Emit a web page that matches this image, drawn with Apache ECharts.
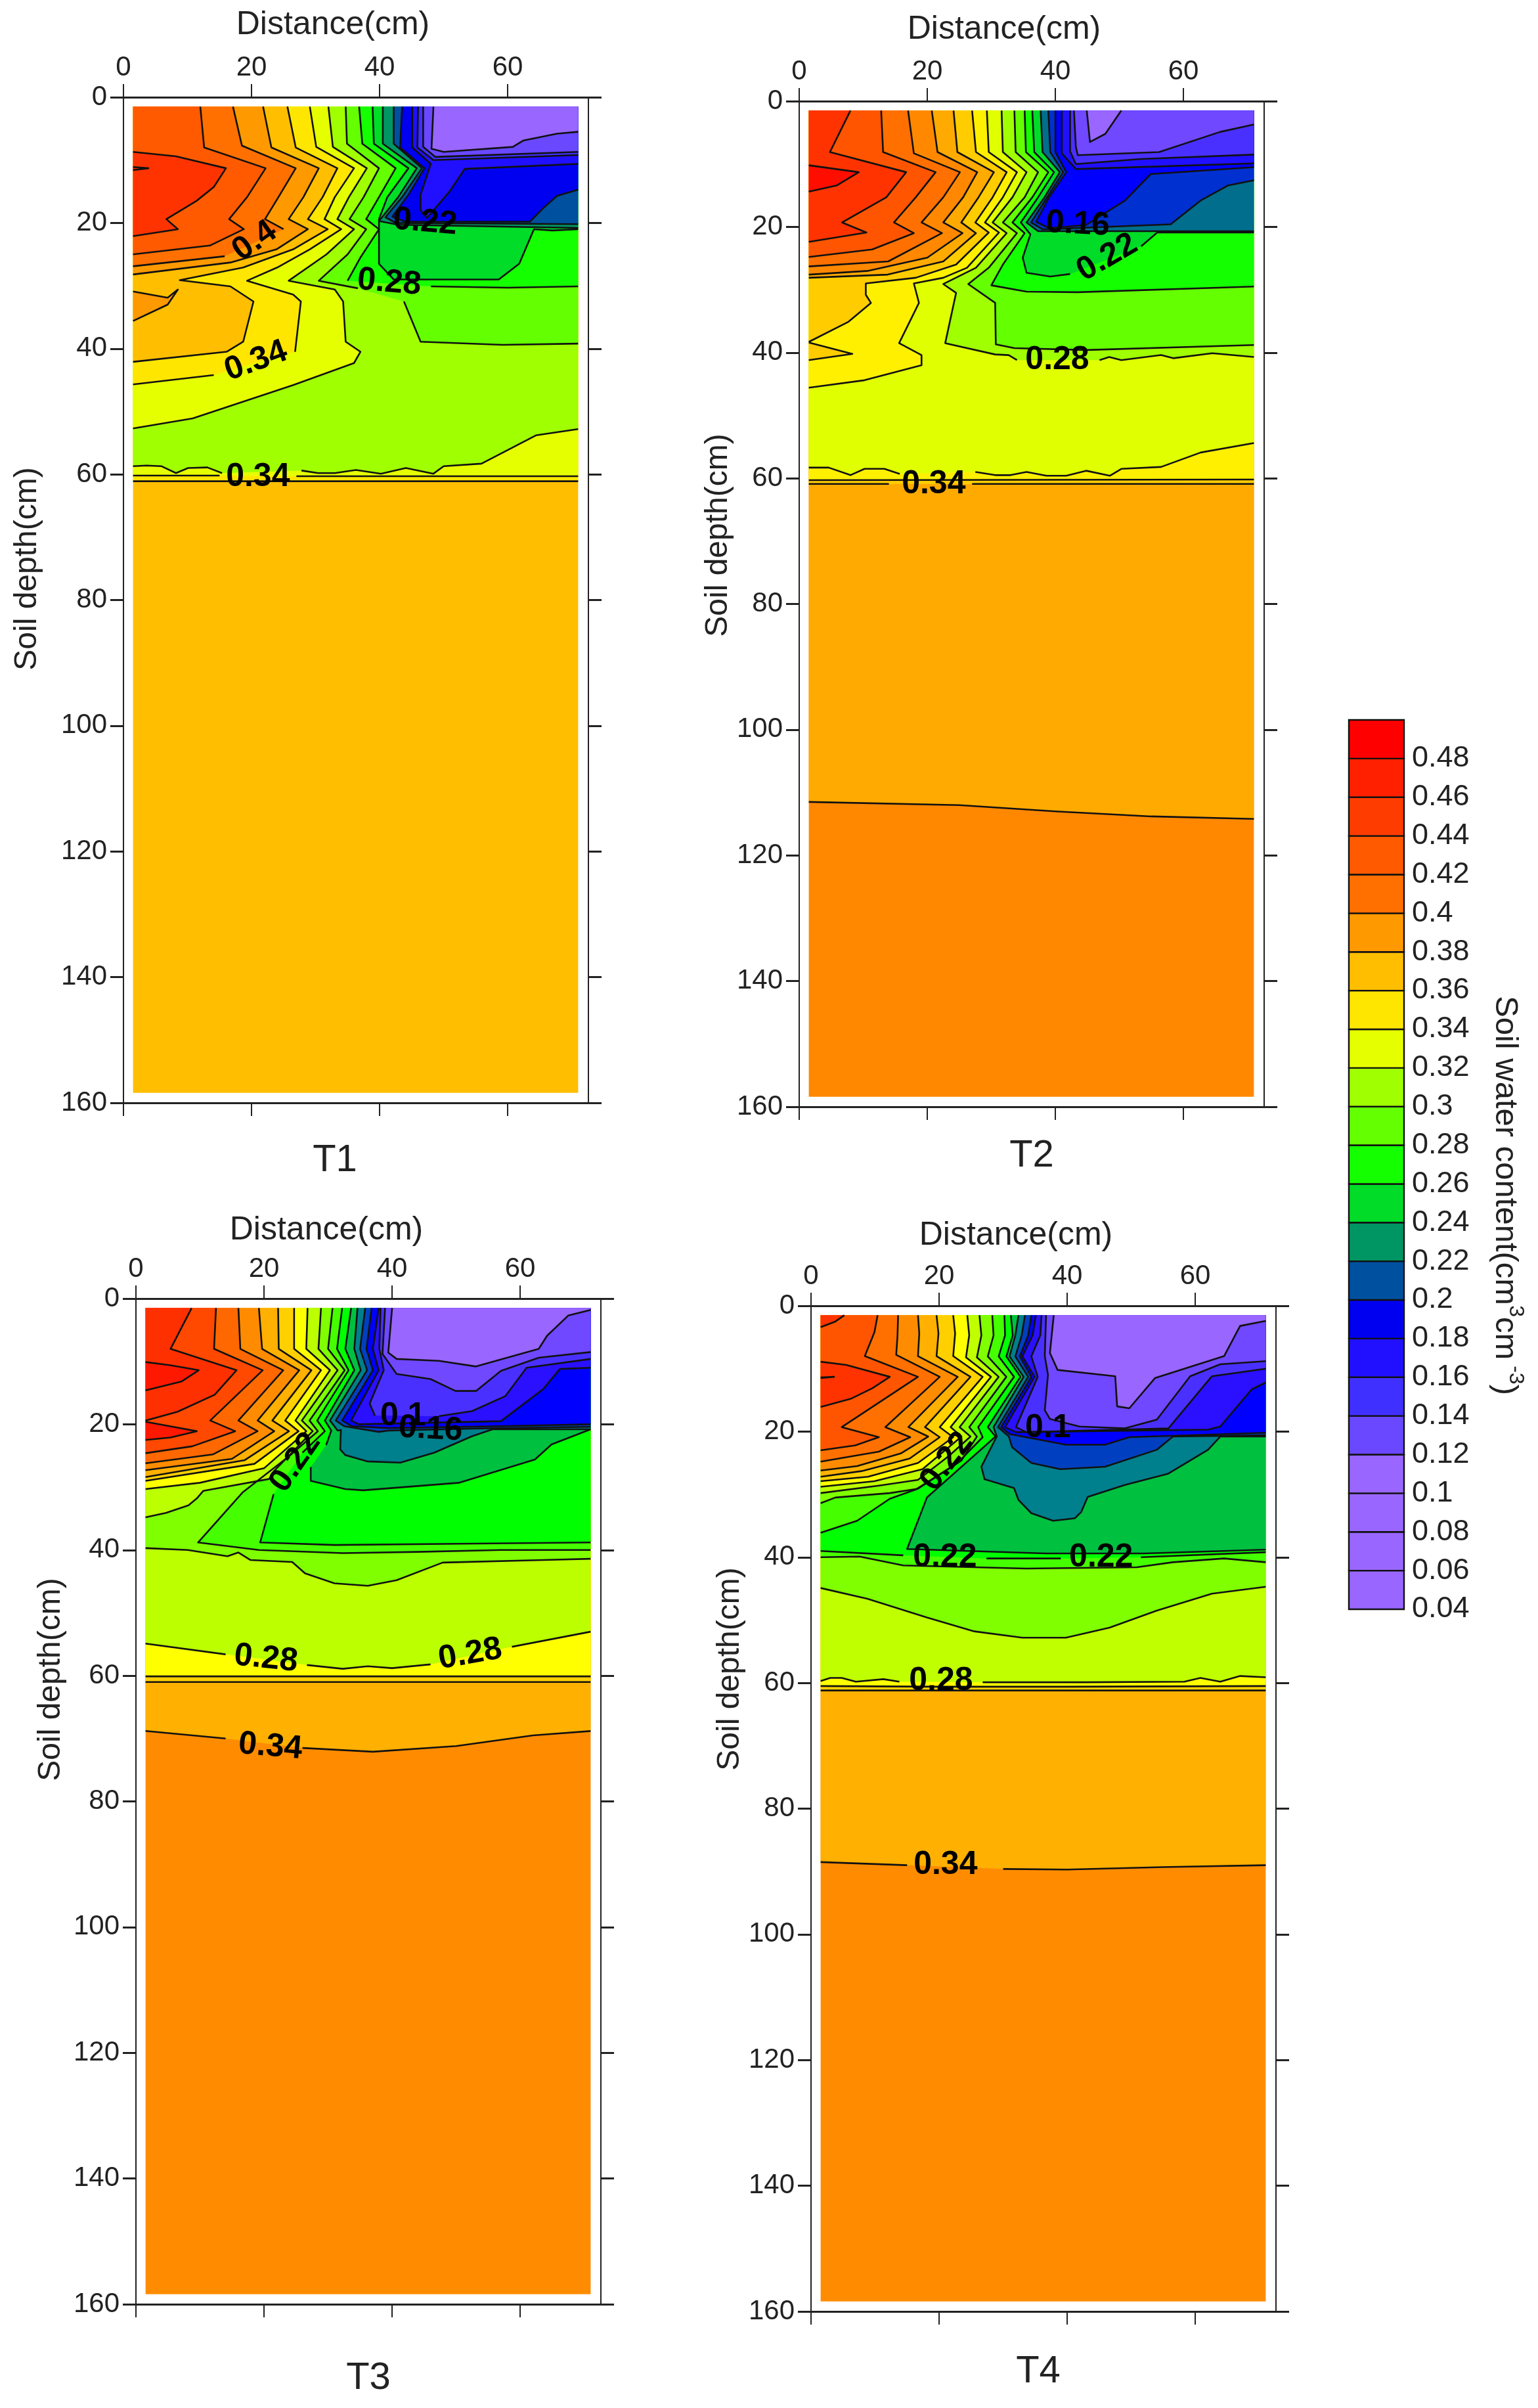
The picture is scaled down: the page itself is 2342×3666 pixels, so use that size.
<!DOCTYPE html>
<html>
<head>
<meta charset="utf-8">
<title>Soil water content</title>
<script src="https://cdn.jsdelivr.net/npm/echarts@6/dist/echarts.min.js"></script>
<style>
html, body { margin: 0; padding: 0; background: #fff; }
#main { width: 2342px; height: 3666px; }
</style>
</head>
<body>
<div id="main"></div>
<script>
// contour = [band value, line points (x cm, depth cm), closing corners of the filled area]
// null in a line = gap for a label
var L = 1.5, R = 71, T = 1.5, B = 158.4;
var hot = [[L, T]];
var cold = [[R, T]];
var above = [[R, T], [L, T]];
var whole = [[L, T], [R, T], [R, B], [L, B]];

var xTicks = [0, 20, 40, 60];
var depthTicks = [0, 20, 40, 60, 80, 100, 120, 140, 160];
var legendValues = [0.04, 0.06, 0.08, 0.1, 0.12, 0.14, 0.16, 0.18, 0.2, 0.22, 0.24, 0.26, 0.28, 0.3, 0.32, 0.34, 0.36, 0.38, 0.4, 0.42, 0.44, 0.46, 0.48];

var t1Contours = [
  [0.36, [], whole],
  [0.34, [[1.5,61.1],[71,61.1]], above],
  [0.32, [[1.5,60.2],[15,60.2],null,[27,60.3],[71,60.3]], above],
  [0.3, [[1.5,58.7],[3.6,58.6],[5.9,58.7],[8.2,59.8],[10.1,59],[13.1,58.9],[15.4,59.8],null,[27.8,59.4],[30.4,59.8],[33,59.8],[36.3,59.3],[40.2,59.9],[44.1,59],[48.4,59.9],[50,58.7],[55.9,58.3],[64.4,53.8],[71,52.8]], above],
  [0.28, [[34.7,1.5],[34.9,7.4],[39.9,11.3],[37.5,15.9],[35.3,19.4],[37.9,21],[35,25],[30.5,29.2],[36.6,30.4],null,[43.8,32.5],[46.4,38.9],[59.2,39.4],[71,39.2]], cold],
  [0.26, [[36.8,1.5],[37.3,7.4],[42.5,11.3],[39.9,15.9],[37.9,19.4],[39.9,21],[37,25.5],[35,29.2],null,[48,30.1],[60,30.3],[71,30.1]], cold],
  [0.24, [[38.9,1.5],[39.1,7.4],[44.5,11.3],[41.2,15.9],[39.9,19.4],[39.9,21.3],[39.9,26.5],[42.2,29],[58.6,29],[61.8,26.5],[64.1,21],[67,21.2],[71,21]], cold],
  [0.22, [[40.5,1.5],[40.5,7.4],[45.8,11.3],[42.9,15.9],[39.9,19.7],[42.9,20.3],[71,20.8]], cold],
  [0.2, [[42.2,1.5],[42.2,7.4],[46.6,11.3],[43.5,15.9],[40.9,19.1],[42.5,20],[71,20.2]], cold],
  [0.18, [[43.5,1.5],[43.2,8],[47,11.3],[44.5,15.5],[42,19],[44,19.8],[63.5,19.8],[65.5,17.7],[67.7,15.7],[71,14.7]], cold],
  [0.16, [[45.1,1.5],[45.1,8],[48,10.6],[46.4,15.5],[46.4,18],[47.4,19.2],[51,14.9],[53.3,11.4],[71,10.6]], cold],
  [0.14, [[46,1.5],[45.9,8],[48.4,10],[71,9.2]], cold],
  [0.12, [[46.8,1.5],[46.8,7.9],[48.7,9.5],[71,8.7]], cold],
  [0.1, [[48.4,1.5],[48.1,8.2],[50,8.7],[60.8,7.9],[62.4,6.9],[67.7,5.8],[71,5.5]], cold],
  [0.32, [[32,1.5],[32.7,7.9],[38,11.3],[35.2,15.9],[33.4,19.4],[36,21],[31.7,25],[25.8,29.2],[33,30.6],[34.3,32.5],[34.7,38.9],[37,40.5],[36,42.3],[26.5,45.8],[10.8,51.1],[1.5,52.7]], hot],
  [0.34, [[29.1,1.5],[30.1,7.9],[36,11.3],[33,15.9],[31.4,19.4],[34,21],[29.1,24.2],[24,27.1],[19.3,29.2],[26.5,31.4],[27.7,32.5],[26.8,40.5],null,[14.1,44.2],[1.5,45.7]], hot],
  [0.36, [[25.6,1.5],[26.9,8],[33.4,11.3],[31.1,15.9],[28.8,19.4],[31.9,21],[26.5,24.2],[18.7,27.1],[8.8,29.1],[16.7,30.1],[20.3,32.5],[18.7,38.9],[16.1,40.5],[1.5,42.1]], hot],
  [0.38, [[1.5,30.9],[6.9,31.9],[8.5,30.6],[6.9,33],[1.5,35.6]], []],
  [0.38, [[21.8,1.5],[23.1,8],[30.5,11.3],[28.1,15.9],[25.8,19.4],[28.8,21],[23.9,24.2],[16.7,26.3],[1.5,28.2]], hot],
  [0.4, [[17.1,1.5],[18.5,7.7],[26.9,11.3],[24.2,15.9],[22.1,19.4],[25,21],null,[15.8,25.3],[1.5,26.9]], hot],
  [0.42, [[12,1.5],[12.6,8],[22.2,11.3],[19.3,15.9],[16.5,19.4],[18.8,21],[13.5,23.6],[1.5,25]], hot],
  [0.44, [[1.5,8.7],[8.2,9.4],[16,11.3],[14.1,14.3],[11.4,16.5],[6.7,19.4],[8.5,21],[1.5,22.1]], []],
  [0.46, [[1.5,11.1],[3.9,11.3],[1.5,11.6]], []]
];
var t1Labels = [["0.4",20.5,22.9,35],["0.22",47.1,19.9,-5],["0.28",41.5,29.5,-5],["0.34",20.7,42,20],["0.34",21,60.4,0]];

var t2Contours = [
  [0.38, [], whole],
  [0.36, [[1.5,111.5],[25,112],[40,113],[55,113.8],[71,114.2]], above],
  [0.34, [[1.5,60.9],[14,60.9],null,[27,60.9],[71,60.9]], above],
  [0.32, [[1.5,60.3],[71,60.2]], above],
  [0.3, [[1.5,58.3],[4.6,58.3],[8,59.5],[10.2,58.5],[13.3,58.5],[15.7,59.3],null,[27.5,59],[30.6,59.5],[33,59.5],[35.5,59],[38.6,59.6],[41.7,59.6],[44.8,58.8],[48.5,59.6],[50.3,58.5],[56.5,58.2],[62.7,55.9],[71,54.4]], above],
  [0.28, [[31.6,1.5],[31.8,8.1],[35.5,11.3],[33.3,15.3],[30.2,19.3],[32.4,21],[27.6,26.5],[22.5,29.1],[24.5,30.5],[22.8,38.5],[30.6,40.3],[32.7,40.4],[34,41.2],null,[46.9,41.2],[48.4,40.7],[50.3,41.2],[56.5,40.4],[58.4,40.9],[64.5,40.1],[71,40.7]], cold],
  [0.26, [[33.6,1.5],[33.8,8.1],[37.3,11.3],[35.2,15.3],[31.8,19.3],[34,21],[29.6,26.5],[26.4,29.1],[30.6,32.1],[30.7,38.7],[33.6,39.3],[44.8,39.6],[71,38.8]], cold],
  [0.24, [[35.2,1.5],[35.4,8.1],[38.9,11.3],[36.4,15.3],[33.3,19.3],[35.2,21],[31.8,26],[30,29.3],[35.5,30.3],[43.5,30.4],[71,29.5]], cold],
  [0.22, [[36.4,1.5],[36.7,8.1],[39.8,11.3],[37.3,15.3],[34.6,19.3],[36.1,21.2],[34.9,24.9],[35.5,27.3],[39.2,27.9],[42.3,27.5],null,[53.4,23.1],[55.9,20.9],[71,20.9]], cold],
  [0.2, [[37.7,1.5],[38,8.1],[40.7,11.3],[38.3,15.3],[35.5,19.3],[37.3,20.7],[71,20.7]], cold],
  [0.18, [[38.9,1.5],[39.2,8.1],[41.2,11.3],[38.7,15.3],[36.2,19.3],[38,20.4],[58,19.6],[62.7,15.8],[67,13.4],[71,12.6]], cold],
  [0.16, [[40,1.5],[40,8.1],[41.7,11.3],[39,15.3],[37,19.2],[39,20.2],[44.8,19.7],[50.9,15.8],[54.9,11.6],[71,10.5]], cold],
  [0.14, [[41,1.5],[41,8.3],[43.2,10.8],[71,9.9]], cold],
  [0.12, [[42.3,1.5],[42.3,8],[43.2,10],[53.4,9.2],[71,8.5]], cold],
  [0.1, [[42.9,1.5],[43.2,7.3],[43.5,8.6],[56.2,8.1],[65.7,4.9],[71,3.7]], cold],
  [0.08, [[44.9,1.5],[45.4,6.5],[47.8,5.2],[50.3,1.5]], []],
  [0.32, [[29.3,1.5],[29.6,8.1],[34,11.3],[31.8,15.3],[29,19.3],[31.2,20.9],[26.2,26.5],[22.5,28.1],[17.9,29],[18.7,32.1],[15.6,38.5],[19.1,40.4],[19.1,42],[10.2,44.4],[1.5,45.6]], hot],
  [0.34, [[27,1.5],[27.6,8.1],[32.4,11.3],[30.2,15.3],[27.5,19.3],[29.6,20.9],[24.5,26],[18.2,28.1],[10.4,29],[10.4,30.8],[11.2,32.1],[7.7,35.1],[1.5,38.3]], hot],
  [0.34, [[1.5,38.4],[8.3,40.2],[1.5,41.2]], []],
  [0.36, [[24.1,1.5],[24.7,8.1],[30.4,11.3],[28,15.3],[25.3,19.3],[27.6,21],[22.5,25.5],[13.8,27.6],[1.5,28.1]], hot],
  [0.38, [[20.7,1.5],[21.6,8.1],[27.8,11.3],[25.6,15.3],[22.5,19.3],[25.5,21],[20,24.9],[10.8,27],[1.5,27.6]], hot],
  [0.4, [[17,1.5],[17.9,8.3],[25.1,11.3],[22.5,15.3],[19.1,19.3],[22.3,21],[13.9,25.5],[1.5,26.3]], hot],
  [0.42, [[12.8,1.5],[13.1,8.1],[21.3,11.3],[18.2,15.3],[14.8,19.3],[17.9,21],[11.4,23.6],[1.5,24.8]], hot],
  [0.44, [[8,1.5],[4.8,8.1],[16.7,11.3],[13.6,15.3],[6.7,19.3],[10.5,20.9],[1.5,22.4]], hot],
  [0.46, [[1.5,10.2],[9.3,11.3],[5.9,13.4],[1.5,14.4]], []]
];
var t2Labels = [["0.16",43.5,19.6,-3],["0.22",48.1,24.9,30],["0.28",40.3,41.2,0],["0.34",21,61,0]];

var t3Contours = [
  [0.38, [], whole],
  [0.36, [[1.5,68.8],[14,70],null,[26,71.5],[37,72.1],[50,71.2],[62,69.5],[71,68.8]], above],
  [0.34, [[1.5,61],[71,61]], above],
  [0.32, [[1.5,60.1],[71,60.1]], above],
  [0.3, [[1.5,54.9],[14,56.6],null,[26.7,58.3],[32.3,58.9],[36.2,58.5],[40,58.8],[46,58.2],null,[58.7,55.4],[71,53]], above],
  [0.28, [[1.5,39.7],[8.1,40],[14.3,41],[16,40.4],[17.9,41.6],[24.4,41.9],[26.4,43.7],[31,45.3],[36.2,45.7],[40.7,44.8],[47.9,42],[63.6,41.6],[71,41.4]], above],
  [0.26, [[30.7,1.5],[30,8],[32.6,11.4],[27.1,19.4],[28.4,21.1],[24,25],[16.7,30.8],[9.7,38.8],[19.2,40],[32.3,40.5],[44,40.3],[57,40],[71,40]], cold],
  [0.24, [[32.2,1.5],[31.4,8],[33.2,11.4],[28.3,19.4],[29.5,21.1],[26,24.5],null,[21.5,31.1],[19.4,38.8],[31,39.2],[50.5,39],[71,38.8]], cold],
  [0.22, [[33.6,1.5],[32.7,8],[34.1,11.4],[29.5,19.4],[30.5,21],[29.7,23.3],null,[27.3,26.8],[27.3,29],[32.7,30.3],[35.5,30.5],[50.5,29.3],[62.3,25.6],[64.9,23.2],[71,20.8]], cold],
  [0.2, [[34.6,1.5],[34.1,8],[35.1,11.4],[30.3,19.4],[31.5,21],[32,20.9],[31.9,24],[32.7,24.9],[36.1,25.9],[41.3,26.1],[46.6,24.5],[52.5,21.9],[55.7,20.8],[71,20.8]], cold],
  [0.18, [[35.8,1.5],[35,8],[36.1,11.4],[31.2,19.4],[32.5,20.3],[37.9,21.2],[39.4,21],[52.5,20.7],[71,20.4]], cold],
  [0.16, [[36.8,1.5],[36,8],[37,11.4],[32.2,19.4],[33.7,20.3],[39.4,20.6],[57,20.3],[71,20]], cold],
  [0.14, [[37.9,1.5],[37,8],[37.9,11.4],[33.6,19.4],[34.8,20],[57,19.5],[63.6,14.4],[66.2,11.2],[71,11]], cold],
  [0.12, [[38.2,1.5],[38,8],[38.7,11.4],[36.5,16.7],[37.3,18.6],null,[47.3,18.7],[52.5,17.9],[57.7,15.5],[61,11],[71,9.6]], cold],
  [0.1, [[38.9,1.5],[38.5,8.8],[40.7,12],[46,12.8],[49.9,14.7],[53.1,14.7],[57,11.5],[62.9,9.4],[71,8.5]], cold],
  [0.08, [[40,1.5],[39.4,8.6],[40.7,9.6],[47.3,9.9],[53.1,10.8],[62.9,8],[64.2,5.9],[67.5,2.7],[71,1.8]], cold],
  [0.3, [[28.9,1.5],[28.5,8],[31.5,11.4],[25.9,19.4],[27.6,21.1],[21.5,27.5],[20.8,28.7],[10.5,30.6],[9.5,31.8],[8.2,32.9],[4.7,34.1],[1.5,34.8]], hot],
  [0.32, [[26.8,1.5],[26.6,8],[30.3,11.4],[24.9,19.4],[26.6,21.1],[20,27],[10,29.3],[1.5,30.3]], hot],
  [0.34, [[24.7,1.5],[24.7,8],[28.9,11.4],[23.3,19.4],[25.4,21.1],[18.5,26.3],[1.5,29]], hot],
  [0.36, [[22.2,1.5],[22.3,8],[27.4,11.4],[21.3,19.4],[23.9,21.1],[17,25.7],[1.5,28.4]], hot],
  [0.38, [[19.2,1.5],[19.7,8],[25.5,11.4],[19,19.4],[21.6,21.1],[15,25.5],[1.5,27.3]], hot],
  [0.42, [[16,1.5],[16.3,8],[23,11.4],[16,19.4],[19,21.1],[12,24.8],[1.5,26.2]], hot],
  [0.44, [[12.5,1.5],[12.2,8],[19.8,11.4],[11.6,19.4],[15.5,21.1],[8.8,23.5],[1.5,24.6]], hot],
  [0.46, [[8.7,1.5],[5.4,8],[15.7,11.4],[12.3,15.3],[6.5,18],[1.5,19.4]], hot],
  [0.48, [[1.5,10.1],[5.4,10.6],[9.8,11.4],[7.1,13.2],[1.5,14.6]], []],
  [0.48, [[1.5,19.6],[4.7,20.2],[9.5,21.1],[5.4,22.1],[1.5,22.5]], []]
];
var t3Labels = [["0.1",41.7,18.7,0],["0.16",46,20.8,-3],["0.22",24.9,26.1,55],["0.28",20.3,57.3,-6],["0.28",52.2,56.6,10],["0.34",21,71.3,-5]];

var t4Contours = [
  [0.38, [], whole],
  [0.36, [[1.5,88.5],[15,89],null,[30,89.6],[40,89.7],[55,89.3],[71,89]], above],
  [0.34, [[1.5,61.2],[71,61.2]], above],
  [0.32, [[1.5,60.5],[20,60.6],[40,60.6],[71,60.5]], above],
  [0.3, [[1.5,59.7],[3,59.2],[4.8,59.2],[7,59.8],[11.3,59.4],[13.8,59.8],null,[26.8,59.9],[42.9,59.9],[58.3,59.8],[60.8,59.2],[63.9,59.8],[67,58.9],[71,59.1]], above],
  [0.28, [[1.5,44.9],[8.8,46.6],[18.1,49.6],[25.5,51.8],[33,52.8],[39.8,52.8],[46.6,51.2],[54,48.5],[62.6,45.8],[71,44.7]], above],
  [0.26, [[1.5,40],[7.6,39.9],[14.4,41.3],[33.6,41.8],[50.9,41.6],[56.5,40.8],[64.5,40.2],[71,40.8]], above],
  [0.24, [[1.5,39],[14.4,39.7],null,[27.4,40.2],[39,40.2],null,[51.5,40],[71,39.2]], above],
  [0.22, [[31.2,1.5],[31.5,4.7],[30.5,8.05],[32.7,11.3],[27.6,19.3],[28.8,20.8],[26.4,23],[18.1,30.5],[15,38.7],[36.7,39.4],[52.1,39.4],[71,38.8]], cold],
  [0.2, [[32.4,1.5],[31.9,4.7],[31,8.05],[33.2,11.3],[28.5,19.3],[29,20.8],[26.6,25.6],[27.1,27.6],[31.7,29],[32.4,30.9],[34.4,33],[37.8,34.2],[41.2,33.8],[42.2,32.8],[43.2,30.4],[49,28.5],[55.8,26.7],[62,22.9],[63.9,20.8],[71,20.8]], cold],
  [0.18, [[33.4,1.5],[32.9,4.7],[31.9,8.05],[33.9,11.3],[29.2,19.3],[30.9,20.8],[31.4,22.5],[34.4,25],[38.9,26],[45.9,25.6],[54,22.9],[56.5,20.8],[71,20.6]], cold],
  [0.16, [[34.4,1.5],[33.9,4.7],[32.6,8.05],[34.4,11.3],[29.7,19.3],[31,20.4],[39.8,22.1],[45.9,22.1],[49.7,20.9],[71,20.2]], cold],
  [0.14, [[35.1,1.5],[34.6,4.7],[33,8.05],[34.9,11.3],[30.3,19.3],[32,20.1],[62,19.7],[63.9,19.2],[68.8,13.3],[71,12.2]], cold],
  [0.12, [[36,1.5],[35.8,4.7],[34.4,8.05],[35.4,11.3],[32,19.3],[33.6,20.1],[55.8,19.5],[62.6,11.2],[71,10]], cold],
  [0.1, [[36.7,1.5],[36.5,8],[37,11],[36.5,16.6],[37.3,18],[41.9,19.2],[49,19.5],[54,18.1],[59.2,11.2],[63.9,9.3],[71,8.8]], cold],
  [0.08, [[37.9,1.5],[37.3,7.5],[38.5,10.2],[47.5,11.2],[47.8,16],[49.7,16.3],[53.7,11.5],[64.5,8],[67,3.2],[71,2.4]], cold],
  [0.26, [[30.2,1.5],[30.3,4.7],[29.3,8.05],[31.7,11.3],[26.1,19.3],[26.8,20.9],[22.9,25],[16.4,29.2],[12.3,30.7],[7.2,34.2],[1.5,36.1]], hot],
  [0.28, [[28.3,1.5],[28.5,4.7],[27.6,8.05],[30.5,11.3],[24.7,19.3],[25.9,20.8],[23.5,24.6],[16.7,29.1],[12.3,29.8],[3.8,30.5],[1.5,31.4]], hot],
  [0.3, [[26.3,1.5],[26.6,4.7],[25.9,8.2],[29.3,11.3],[23.2,19.3],[24.9,20.8],[21.5,23.9],[16.7,27.7],[10.6,28.6],[1.5,29.8]], hot],
  [0.32, [[24.4,1.5],[24.7,4.7],[24.2,8.2],[28.1,11.3],[21.8,19.3],[23.5,20.8],[17.4,26],[9.9,27.9],[1.5,28.8]], hot],
  [0.34, [[22.2,1.5],[22.5,4.4],[22.2,8],[26.8,11.3],[20.1,19.3],[22.2,20.9],[16.7,25],[8.9,27.2],[1.5,27.9]], hot],
  [0.36, [[19.6,1.5],[19.9,4.4],[19.6,8],[24.9,11.3],[17.8,19.3],[20.1,20.9],[15.4,24.3],[7.9,26.3],[1.5,27.2]], hot],
  [0.38, [[16.7,1.5],[16.9,4.4],[16.7,8],[22.9,11.3],[15.2,19.3],[18.3,20.8],[14,23.5],[7.2,25.5],[1.5,26.2]], hot],
  [0.4, [[13.6,1.5],[13.5,4.8],[13.3,7.8],[20.1,11.3],[11.6,19.3],[15.5,20.9],[10.6,23.2],[1.5,24.8]], hot],
  [0.42, [[10.4,1.5],[9.9,4.2],[8.4,8],[16.7,11.3],[4.8,19.3],[10.6,20.9],[6.9,22.2],[1.5,23]], hot],
  [0.44, [[1.5,3.4],[3.8,2.5],[5.2,1.5]], hot],
  [0.44, [[1.5,8.9],[5.5,9.4],[12.3,11.3],[9.6,13.1],[6.2,14.8],[1.5,16.1]], []],
  [0.46, [[1.5,11.4],[3.6,11.3],[1.5,11.5]], []]
];
var t4Labels = [["0.1",37,19.5,0],["0.22",21.2,24.8,52],["0.22",20.9,40,0],["0.22",45.3,40,0],["0.28",20.3,59.7,0],["0.34",21,89,0]];

// colours
var legendColors = ['#9966ff','#9966ff','#9966ff','#9966ff','#6a48ff','#4030ff','#2010ff','#0000f0','#0050a0','#009664','#00dc28','#14ff00','#64ff00','#a0ff00','#e6ff00','#ffe600','#ffbe00','#ff9900','#ff7000','#ff5a00','#ff3c00','#ff2000','#ff0000'];
var t1Colors = {0.1:'#9966ff',0.12:'#6a48ff',0.14:'#4030ff',0.16:'#2010ff',0.18:'#0000f0',0.2:'#0050a0',0.22:'#009664',0.24:'#00dc28',0.26:'#14ff00',0.28:'#64ff00',0.3:'#a0ff00',0.32:'#e6ff00',0.34:'#ffe600',0.36:'#ffbe00',0.38:'#ff9900',0.4:'#ff7000',0.42:'#ff5a00',0.44:'#ff3300',0.46:'#ff2000'};
var t2Colors = {0.08:'#9966ff',0.1:'#7048ff',0.12:'#4a30ff',0.14:'#2010ff',0.16:'#0000ff',0.18:'#0030d0',0.2:'#006e8c',0.22:'#00dc28',0.24:'#14ff00',0.26:'#64ff00',0.28:'#a0ff00',0.3:'#e0ff00',0.32:'#fff000',0.34:'#ffcc00',0.36:'#ffaa00',0.38:'#ff8800',0.4:'#ff7000',0.42:'#ff5500',0.44:'#ff3300',0.46:'#ff0e00'};
var t3Colors = {0.08:'#9966ff',0.1:'#7048ff',0.12:'#4a30ff',0.14:'#2a10ff',0.16:'#0000ff',0.18:'#0040c0',0.2:'#007f8c',0.22:'#00c040',0.24:'#00ff00',0.26:'#45ff00',0.28:'#7fff00',0.3:'#bbff00',0.32:'#ffff00',0.34:'#ffd000',0.36:'#ffb000',0.38:'#ff8c00',0.42:'#ff6800',0.44:'#ff4800',0.46:'#ff3000',0.48:'#ff1800'};
var t4Colors = {0.08:'#9966ff',0.1:'#7048ff',0.12:'#4a30ff',0.14:'#2a10ff',0.16:'#0000ff',0.18:'#0040c0',0.2:'#007f8c',0.22:'#00c040',0.24:'#00ff00',0.26:'#45ff00',0.28:'#80ff00',0.3:'#c0ff00',0.32:'#ffff00',0.34:'#ffd000',0.36:'#ffb000',0.38:'#ff8c00',0.4:'#ff7000',0.42:'#ff5500',0.44:'#ff3300',0.46:'#ff1800'};

var font = 'Liberation Sans';
var axisColor = '#222';

var panels = [
  {name: 'T1', left: 188, top: 148, contours: t1Contours, labels: t1Labels, colors: t1Colors, title: [510, 1767], xName: [507, 38], yName: [42, 866]},
  {name: 'T2', left: 1217, top: 154, contours: t2Contours, labels: t2Labels, colors: t2Colors, title: [1571, 1760], xName: [1529, 45], yName: [1094, 815]},
  {name: 'T3', left: 207, top: 1977, contours: t3Contours, labels: t3Labels, colors: t3Colors, title: [561, 3621], xName: [497, 1873], yName: [78, 2557]},
  {name: 'T4', left: 1235, top: 1988, contours: t4Contours, labels: t4Labels, colors: t4Colors, title: [1581, 3611], xName: [1547, 1881], yName: [1112, 2541]}
];

function fillItem(panel) {
  return function (params, api) {
    var c = panel.contours[params.dataIndex];
    var pts = c[1].filter(function (p) { return p; }).concat(c[2]).map(function (p) { return api.coord(p); });
    return {type: 'polygon', silent: true, shape: {points: pts}, style: {fill: panel.colors[c[0]], stroke: null}};
  };
}

function lineItem(panel) {
  return function (params, api) {
    var c = panel.contours[params.dataIndex];
    var parts = [[]];
    c[1].forEach(function (p) {
      if (p) parts[parts.length - 1].push(api.coord(p));
      else parts.push([]);
    });
    return {
      type: 'group',
      children: parts.map(function (part) {
        return {type: 'polyline', silent: true, shape: {points: part}, style: {stroke: '#111', lineWidth: 2.6, fill: null, lineJoin: 'round'}};
      })
    };
  };
}

function labelItem(panel) {
  return function (params, api) {
    var l = panel.labels[params.dataIndex];
    var p = api.coord([l[1], l[2]]);
    return {
      type: 'text', silent: true, x: p[0], y: p[1], rotation: l[3] * Math.PI / 180,
      style: {text: l[0], align: 'center', verticalAlign: 'middle', fontFamily: font, fontWeight: 'bold', fontSize: 50, fill: '#000'}
    };
  };
}

function indexData(list) {
  return list.map(function (d, i) { return [i, 0]; });
}

function customSeries(i, z, list, render) {
  return {
    type: 'custom', xAxisIndex: i * 2, yAxisIndex: i * 2, z: z, clip: false, silent: true,
    animation: false, data: indexData(list), encode: {x: 0, y: 1}, renderItem: render
  };
}

var grids = [], xAxes = [], yAxes = [], series = [], texts = [];

panels.forEach(function (p, i) {
  grids.push({left: p.left, top: p.top, width: 708, height: 1531});
  var lineX = {show: true, onZero: false, lineStyle: {color: axisColor, width: 3}};
  var lineY = {show: true, onZero: false, lineStyle: {color: axisColor, width: 2}};
  var tick = {show: true, inside: false, length: 20, lineStyle: {color: axisColor, width: 2}};
  var tickX = Object.assign({}, tick, {customValues: xTicks});
  var tickY = Object.assign({}, tick, {customValues: depthTicks, lineStyle: {color: axisColor, width: 3}});
  xAxes.push({
    gridIndex: i, type: 'value', position: 'top', min: 0, max: 72.6, splitLine: {show: false}, axisLine: lineX, axisTick: tickX,
    axisLabel: {customValues: xTicks, margin: 24, color: '#222', fontFamily: font, fontSize: 42}
  });
  xAxes.push({
    gridIndex: i, type: 'value', position: 'bottom', min: 0, max: 72.6, splitLine: {show: false}, axisLine: lineX, axisTick: tickX,
    axisLabel: {show: false}
  });
  yAxes.push({
    gridIndex: i, type: 'value', position: 'left', inverse: true, min: 0, max: 160, splitLine: {show: false}, axisLine: lineY, axisTick: tickY,
    axisLabel: {customValues: depthTicks, margin: 25, color: '#222', fontFamily: font, fontSize: 42}
  });
  yAxes.push({
    gridIndex: i, type: 'value', position: 'right', inverse: true, min: 0, max: 160, splitLine: {show: false}, axisLine: lineY, axisTick: tickY,
    axisLabel: {show: false}
  });
  series.push(customSeries(i, 2, p.contours, fillItem(p)));
  series.push(customSeries(i, 3, p.contours, lineItem(p)));
  series.push(customSeries(i, 4, p.labels, labelItem(p)));
  texts.push({type: 'text', x: p.title[0], y: p.title[1], style: {text: p.name, align: 'center', verticalAlign: 'middle', fontFamily: font, fontSize: 58, fill: '#222'}});
  texts.push({type: 'text', x: p.xName[0], y: p.xName[1], style: {text: 'Distance(cm)', align: 'center', verticalAlign: 'middle', fontFamily: font, fontSize: 50, fill: '#222'}});
  texts.push({type: 'text', x: p.yName[0], y: p.yName[1], rotation: Math.PI / 2, style: {text: 'Soil depth(cm)', align: 'center', verticalAlign: 'middle', fontFamily: font, fontSize: 48, fill: '#222'}});
});

// colour bar
grids.push({left: 2054, top: 1096, width: 84, height: 1354});
xAxes.push({gridIndex: 4, type: 'value', min: 0, max: 1, show: false});
yAxes.push({
  gridIndex: 4, type: 'value', position: 'right', min: 0.04, max: 0.5, splitLine: {show: false},
  axisLine: {show: false}, axisTick: {show: false},
  axisLabel: {
    customValues: legendValues, margin: 12, color: '#222', fontFamily: font, fontSize: 45,
    formatter: function (v) { return String(+(+v).toFixed(2)); }
  }
});
series.push({
  type: 'custom', xAxisIndex: 8, yAxisIndex: 8, z: 2, clip: false, silent: true, animation: false,
  data: indexData(legendValues), encode: {x: 0, y: 1},
  renderItem: function (params, api) {
    var v = legendValues[params.dataIndex];
    var a = api.coord([0, v + 0.02]);
    var b = api.coord([1, v]);
    return {
      type: 'rect', silent: true, shape: {x: a[0], y: a[1], width: b[0] - a[0], height: b[1] - a[1]},
      style: {fill: legendColors[params.dataIndex], stroke: '#111', lineWidth: 2.4}
    };
  }
});
texts.push({
  type: 'text', x: 2292, y: 1820, rotation: -Math.PI / 2,
  style: {
    text: 'Soil water content(cm{sup|3}cm{sup| -3})', align: 'center', verticalAlign: 'middle',
    fontFamily: font, fontSize: 49, fill: '#222', lineHeight: 64,
    rich: {sup: {fontFamily: font, fontSize: 32, verticalAlign: 'top', lineHeight: 64, fill: '#222'}}
  }
});

var chart = echarts.init(document.getElementById('main'), null, {renderer: 'canvas'});
chart.setOption({
  animation: false,
  backgroundColor: '#fff',
  grid: grids,
  xAxis: xAxes,
  yAxis: yAxes,
  series: series,
  graphic: {elements: texts}
});
</script>
</body>
</html>
